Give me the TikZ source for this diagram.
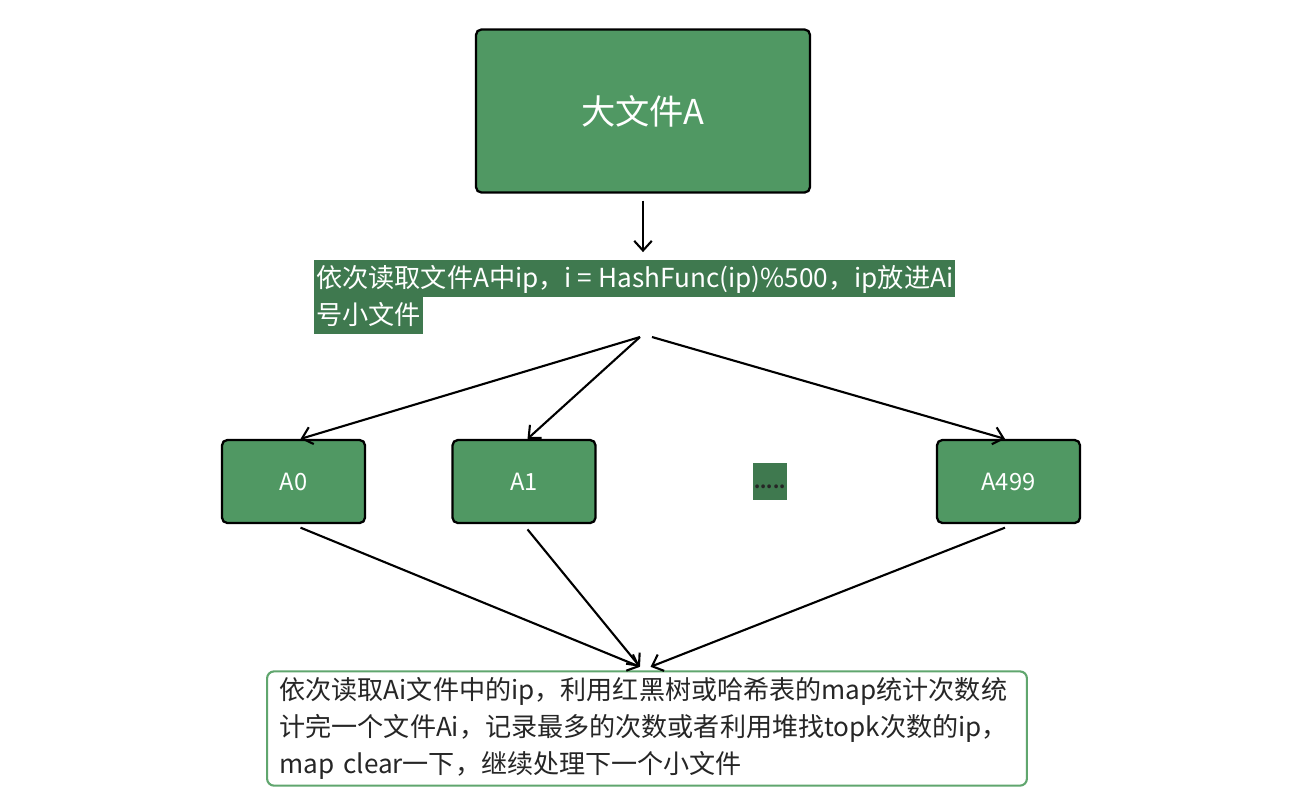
\documentclass[tikz,border=0pt]{standalone}
\usepackage{fontspec}
\setmainfont{Noto Sans CJK SC}
\usetikzlibrary{arrows.meta}

\definecolor{filegreen}{RGB}{80,152,99}
\definecolor{markgreen}{RGB}{63,121,79}
\definecolor{edgegreen}{RGB}{96,166,110}
\definecolor{textgray}{RGB}{38,38,38}

\begin{document}
\begin{tikzpicture}[x=0.02cm, y=-0.02cm]
        \tikzstyle{file}=[draw=black, fill=filegreen, rounded corners=3pt, line width=1.3pt, text=white]
        \tikzstyle{hilite}=[fill=markgreen, text=white, inner xsep=1pt, inner ysep=0pt, anchor=north west,
                          font=\fontsize{14.9}{14.9}\selectfont, text height=15.2pt, text depth=5.8pt]
        \tikzstyle{arr}=[-{Straight Barb[length=5.5pt, width=10pt]}, line width=1.2pt]

        \useasboundingbox (0,0) rectangle (1307,795);

        \node[file, minimum width=6.68cm, minimum height=3.26cm, font=\fontsize{19.5}{19.5}\selectfont] (big) at (643,111) {大文件A};

        \node[hilite] (step1) at (314,260) {依次读取文件A中ip，i = HashFunc(ip)\%500，ip放进Ai};
        \node[hilite] (step2) at (314,297) {号小文件};

        \node[file, minimum width=2.86cm, minimum height=1.66cm, font=\fontsize{13.5}{13.5}\selectfont] (a0)   at (293.5,481.5) {A0};
        \node[file, minimum width=2.86cm, minimum height=1.66cm, font=\fontsize{13.5}{13.5}\selectfont] (a1)   at (524,481.5)   {A1};
        \node[file, minimum width=2.86cm, minimum height=1.66cm, font=\fontsize{13.5}{13.5}\selectfont] (a499) at (1008.5,481.5) {A499};
        \node[fill=markgreen, minimum width=0.68cm, minimum height=0.74cm, inner sep=0pt, text=textgray,
              font=\bfseries\fontsize{10}{10}\selectfont] (dots) at (770,481.5) {\raisebox{-1.5ex}{.....}};

        \node[draw=edgegreen, fill=white, rounded corners=4pt, line width=1.2pt, minimum width=15.2cm, minimum height=2.26cm,
              text width=14.7cm, align=left, text=textgray, font=\fontsize{14.85}{21.2}\selectfont] (count) at (647,728.5)
              {依次读取Ai文件中的ip，利用红黑树或哈希表的map统计次数统\\计完一个文件Ai，记录最多的次数或者利用堆找topk次数的ip，\\map clear一下，继续处理下一个小文件};

        \coordinate (splitl) at (640,337);
        \coordinate (splitr) at (652,337);

        \draw[arr] ([yshift=-4pt]big.south) -- ([yshift=4.5pt]step1.north -| big.south);
        \draw[arr] (splitl) -- ([xshift=4pt]a0.north);
        \draw[arr] (splitl) -- ([xshift=2pt]a1.north);
        \draw[arr] (splitr) -- ([xshift=-2pt]a499.north);

        \draw[arr] ([xshift=4pt,yshift=-2pt]a0.south)   -- ([xshift=-4pt,yshift=2pt]count.north);
        \draw[arr] ([xshift=2pt,yshift=-3pt]a1.south)   -- ([xshift=-4pt,yshift=2pt]count.north);
        \draw[arr] ([xshift=-2pt,yshift=-2pt]a499.south) -- ([xshift=2pt,yshift=2pt]count.north);
    \end{tikzpicture}
\end{document}
